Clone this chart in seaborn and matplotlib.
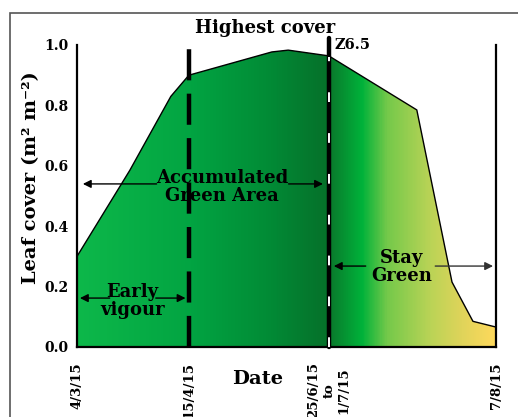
import numpy as np
import pandas as pd
import seaborn as sns
import matplotlib
matplotlib.use("Agg")
import matplotlib.pyplot as plt
from matplotlib.colors import LinearSegmentedColormap
from matplotlib.patches import Rectangle

# ---- data (x = position along the season timeline, 0-100) ----
pos = [0, 12.6, 22.4, 26.7, 46.5, 50.4, 60.1, 81.1, 89.5, 94.5, 100]
cover = [0.30, 0.585, 0.83, 0.90, 0.977, 0.983, 0.964, 0.785, 0.215, 0.085, 0.066]
tick_pos = [0, 26.7, 60.1, 100]
tick_labels = ["4/3/15", "15/4/15", "25/6/15\nto\n1/7/15", "7/8/15"]
y_ticks = [0.0, 0.2, 0.4, 0.6, 0.8, 1.0]

df = pd.DataFrame({"pos": pos, "cover": cover})

sns.set_style("white")
plt.rcParams["font.family"] = ["DejaVu Serif"]
plt.rcParams["font.weight"] = "bold"
for k in ["text.color", "axes.labelcolor", "xtick.color", "ytick.color"]:
    plt.rcParams[k] = "black"

fig = plt.figure(figsize=(5.18, 4.17), dpi=100)
ax = fig.add_axes([77/518, 1-347/417, 419/518, 302/417])

# gradient fill clipped by the area under the curve
stops = [(0.0, "#0db84a"), (0.27, "#02a442"), (0.45, "#018c36"), (0.60, "#06702a"),
         (0.603, "#0a7a2c"), (0.68, "#00b23a"), (0.74, "#74c94a"),
         (0.84, "#b8d356"), (0.92, "#e0d45a"), (1.0, "#ffd95c")]
cmap = LinearSegmentedColormap.from_list("season", stops)
poly = ax.fill_between(df["pos"], 0, df["cover"], color="none", lw=0)
grad = np.linspace(0, 1, 600).reshape(1, -1)
im = ax.imshow(grad, cmap=cmap, extent=[0, 100, 0, 1], aspect="auto", origin="lower", zorder=1)
clip = poly.get_paths()[0]
im.set_clip_path(clip, transform=ax.transData)

sns.lineplot(data=df, x="pos", y="cover", color="black", lw=1, ax=ax, zorder=3)

ax.set_xlim(0, 100)
ax.set_ylim(0, 1.0)
ax.set_yticks(y_ticks)
ax.set_yticklabels([f"{v:.1f}" for v in y_ticks], fontsize=10, fontweight="bold")
ax.set_xticks(tick_pos)
ax.set_xticklabels(tick_labels, rotation=90, fontsize=9.5, fontweight="bold",
                   va="top", ha="center", ma="center", linespacing=1.25)
ax.tick_params(axis="x", length=0, pad=11)
ax.tick_params(axis="y", length=0, pad=6)
ax.spines["top"].set_visible(False)
for s in ["left", "right", "bottom"]:
    ax.spines[s].set_color("black")
    ax.spines[s].set_linewidth(1.6)
ax.spines["bottom"].set_zorder(4)

ax.set_xlabel("Date", fontsize=14, fontweight="bold")
ax.xaxis.set_label_coords(0.43, -0.075)
ax.set_ylabel("Leaf cover (m² m⁻²)", fontsize=14, fontweight="bold")
ax.yaxis.set_label_coords(-0.088, 0.56)

# vertical markers
ax.plot([tick_pos[1]] * 2, [0, 1.017], color="black", lw=3.2, dashes=(7, 3), clip_on=False, zorder=5)
ax.plot([tick_pos[2]] * 2, [0, 1.023], color="black", lw=3.2, clip_on=False, zorder=5)
ax.plot([tick_pos[2]] * 2, [0, 0.96], color="white", lw=1.4, dashes=(5, 16), clip_on=False, zorder=6)

# annotations
ax.text(45, 1.055, "Highest cover", ha="center", va="center", fontsize=13, fontweight="bold",
        clip_on=False)
ax.text(61.5, 1.0, "Z6.5", ha="left", va="center", fontsize=10.5, fontweight="bold", clip_on=False)

ax.text(34.6, 0.53, "Accumulated\nGreen Area", ha="center", va="center", fontsize=13,
        fontweight="bold", linespacing=1.0, zorder=7)
arr = dict(arrowstyle="-|>", color="black", lw=1, mutation_scale=12, shrinkA=0, shrinkB=0)
ax.annotate("", xy=(1.4, 0.54), xytext=(19, 0.54), arrowprops=arr, zorder=7)
ax.annotate("", xy=(58.7, 0.54), xytext=(50.5, 0.54), arrowprops=arr, zorder=7)

ax.text(13.3, 0.152, "Early\nvigour", ha="center", va="center", fontsize=13,
        fontweight="bold", linespacing=1.0, zorder=7)
ax.annotate("", xy=(0.7, 0.162), xytext=(7.8, 0.162), arrowprops=arr, zorder=7)
ax.annotate("", xy=(25.9, 0.162), xytext=(18.8, 0.162), arrowprops=arr, zorder=7)

ax.text(77.5, 0.265, "Stay\nGreen", ha="center", va="center", fontsize=13,
        fontweight="bold", linespacing=1.0, zorder=7)
ax.annotate("", xy=(61.3, 0.268), xytext=(68.9, 0.268), arrowprops=arr, zorder=7)
arr2 = dict(arr, color="#333333")
ax.annotate("", xy=(99.3, 0.268), xytext=(85.5, 0.268), arrowprops=arr2, zorder=7)

# outer frame
fig.patches.append(Rectangle((10/518, -0.05), 1.2, 1 - 13/417 + 0.05, transform=fig.transFigure,
                             fill=False, edgecolor="#555555", lw=1.2))

fig.savefig("out.png", dpi=100)
